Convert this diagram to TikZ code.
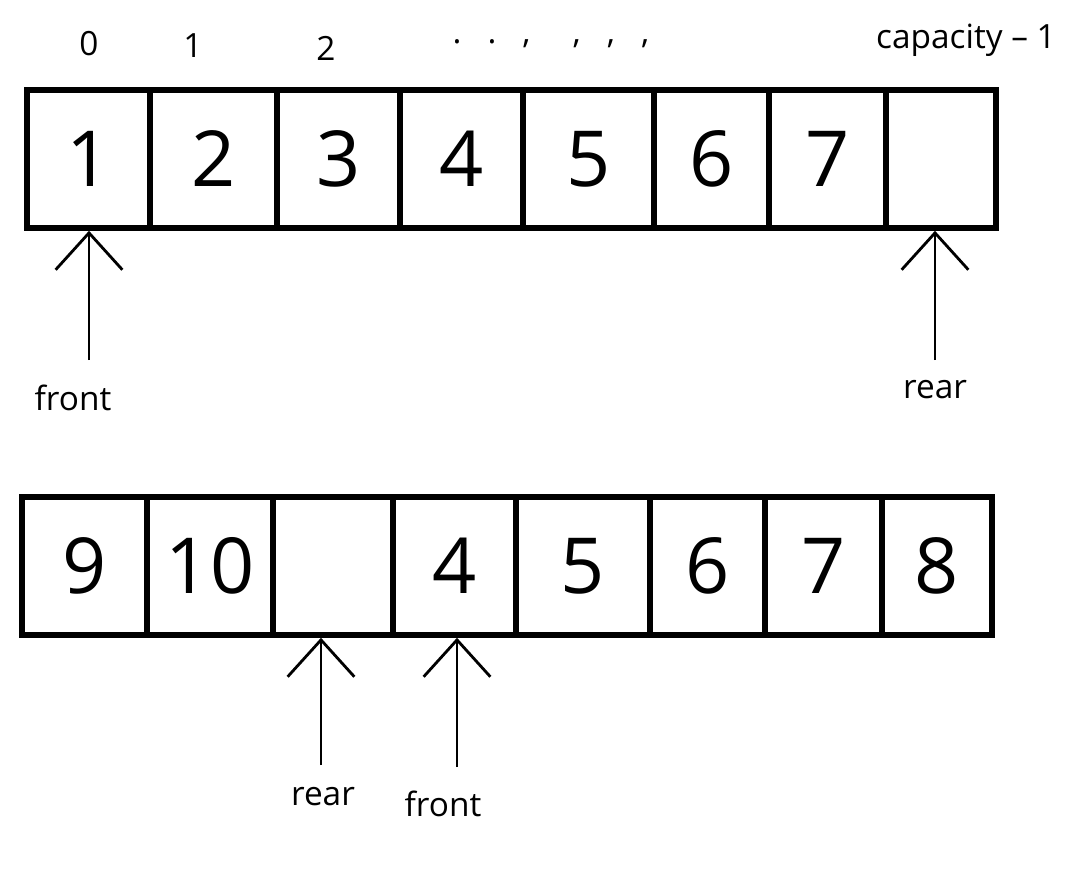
\documentclass[tikz,border=0pt]{standalone}
\usepackage{fontspec}
\setmainfont{Open Sans}
\usetikzlibrary{arrows.meta}
\begin{document}
\begin{tikzpicture}[x=0.02cm,y=-0.02cm,>={Straight Barb[length=21pt,width=38pt]},
        cell/.style={draw,line width=3.2pt,minimum height=2.76cm,inner sep=0pt,font=\fontsize{44}{44}\selectfont},
        lbl/.style={font=\fontsize{19}{19}\selectfont},
        ptr/.style={->,line width=1.6pt}]
    \useasboundingbox (0,0) rectangle (1081,871);
    % queue before wrap-around
    \foreach \l/\r/\v [count=\i] in {27/150/1,150/277/2,277/400/3,400/523/4,523/654/5,654/769/6,769/886/7,886/996/{}}
        \node[cell,minimum width={(\r-\l)*0.02cm}] (a\i) at ({(\l+\r)/2},159) {\v};
    \node[lbl] (idx0) at (89,44) {0};
    \node[lbl] (idx1) at (193,46) {1};
    \node[lbl] (idx2) at (326,48) {2};
    \node[lbl] (dots) at (551,44) {.\ \ \ .\ \ \ ,\quad\ ,\ \ \ ,\ \ \ ,};
    \node[lbl] (idxcap) at (966,40) {capacity – 1};
    \node[lbl] (front1) at (73,398) {front};
    \node[lbl] (rear1) at (935,390) {rear};
    \coordinate (f1) at (89,360);
    \coordinate (r1) at (935,360);
    \draw[ptr] (f1) -- (f1 |- a1.south);
    \draw[ptr] (r1) -- (r1 |- a8.south);
    % queue after wrap-around
    \foreach \l/\r/\v [count=\i] in {22/147/9,147/273/10,273/393/{},393/516/4,516/650/5,650/765/6,765/882/7,882/992/8}
        \node[cell,minimum width={(\r-\l)*0.02cm}] (b\i) at ({(\l+\r)/2},566) {\v};
    \node[lbl] (rear2) at (323,797) {rear};
    \node[lbl] (front2) at (443,804) {front};
    \coordinate (r2) at (321,765);
    \coordinate (f2) at (457,767);
    \draw[ptr] (r2) -- (r2 |- b3.south);
    \draw[ptr] (f2) -- (f2 |- b4.south);
\end{tikzpicture}
\end{document}
